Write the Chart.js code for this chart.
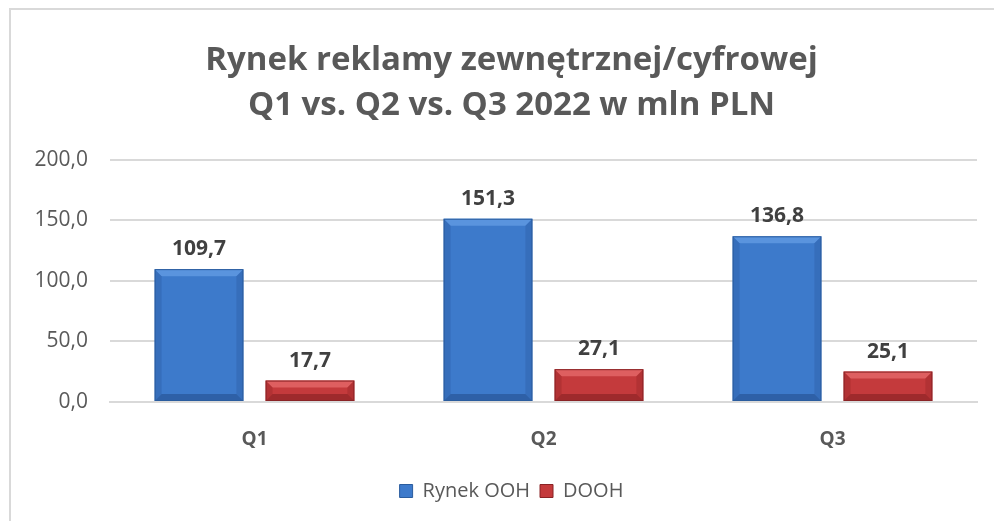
<!DOCTYPE html>
<html>
<head>
<meta charset="utf-8">
<script src="https://cdn.jsdelivr.net/npm/chart.js@4/dist/chart.umd.min.js"></script>
<style>
  html, body { margin: 0; padding: 0; background: #fff; }
  #frame {
    position: absolute; left: 9px; top: 8px; right: -5px; bottom: -5px;
    border-top: 2px solid #d9d9d9; border-left: 2px solid #d9d9d9;
  }
  #wrap { position: absolute; left: 0; top: 0; width: 994px; height: 521px; }
</style>
</head>
<body>
<div id="frame"></div>
<div id="wrap"><canvas id="chart" width="994" height="521"></canvas></div>
<script>
// Data
const categories = ['Q1', 'Q2', 'Q3'];
const oohValues = [109.7, 151.3, 136.8];
const doohValues = [17.7, 27.1, 25.1];
const seriesNames = ['Rynek OOH', 'DOOH'];
const yTicks = [0, 50, 100, 150, 200];

const FONT = "'Open Sans', 'DejaVu Sans', sans-serif";
const TEXT_COLOR = '#595959';
const CENTER_SHIFT = 18; // title + legend are centred on the whole frame, not the plot

function fmt(v) {
  return v.toFixed(1).replace('.', ',');
}

// Shift title and legend to the frame centre
const centerShift = {
  id: 'centerShift',
  afterLayout(chart) {
    [chart.titleBlock, chart.legend].forEach(box => {
      if (!box) return;
      box.left += CENTER_SHIFT;
      box.right += CENTER_SHIFT;
    });
  }
};

// Bevel overlay for bars (Excel-like look)
const bevelPlugin = {
  id: 'bevel',
  afterDatasetsDraw(chart) {
    const ctx = chart.ctx;
    chart.data.datasets.forEach((ds, i) => {
      const meta = chart.getDatasetMeta(i);
      meta.data.forEach(bar => {
        const left = bar.x - bar.width / 2;
        const right = bar.x + bar.width / 2;
        const top = bar.y;
        const bottom = bar.base;
        const b = Math.min(7, (bottom - top) / 2);
        ctx.save();
        // top highlight
        ctx.fillStyle = ds.bevelLight;
        ctx.beginPath();
        ctx.moveTo(left, top);
        ctx.lineTo(right, top);
        ctx.lineTo(right - b, top + b);
        ctx.lineTo(left + b, top + b);
        ctx.closePath();
        ctx.fill();
        // sides
        ctx.fillStyle = ds.bevelDark;
        ctx.beginPath();
        ctx.moveTo(left, top);
        ctx.lineTo(left + b, top + b);
        ctx.lineTo(left + b, bottom - b);
        ctx.lineTo(left, bottom);
        ctx.closePath();
        ctx.fill();
        ctx.beginPath();
        ctx.moveTo(right, top);
        ctx.lineTo(right - b, top + b);
        ctx.lineTo(right - b, bottom - b);
        ctx.lineTo(right, bottom);
        ctx.closePath();
        ctx.fill();
        // bottom
        ctx.fillStyle = ds.bevelBottom;
        ctx.beginPath();
        ctx.moveTo(left, bottom);
        ctx.lineTo(left + b, bottom - b);
        ctx.lineTo(right - b, bottom - b);
        ctx.lineTo(right, bottom);
        ctx.closePath();
        ctx.fill();
        ctx.strokeStyle = ds.borderColor;
        ctx.lineWidth = 1;
        ctx.strokeRect(left + 0.5, top + 0.5, bar.width - 1, bottom - top - 1);
        ctx.restore();
      });
    });
  }
};

// Value labels above bars
const valueLabels = {
  id: 'valueLabels',
  afterDatasetsDraw(chart) {
    const ctx = chart.ctx;
    ctx.save();
    ctx.font = `bold 21px ${FONT}`;
    ctx.fillStyle = '#404040';
    ctx.textAlign = 'center';
    ctx.textBaseline = 'middle';
    chart.data.datasets.forEach((ds, i) => {
      chart.getDatasetMeta(i).data.forEach((bar, j) => {
        ctx.fillText(fmt(ds.data[j]), bar.x, bar.y - 20);
      });
    });
    ctx.restore();
  }
};

const ctx = document.getElementById('chart').getContext('2d');
new Chart(ctx, {
  type: 'bar',
  data: {
    labels: categories,
    datasets: [
      {
        label: seriesNames[0],
        data: oohValues,
        backgroundColor: '#3d7acb',
        borderColor: '#2a5c9e',
        borderWidth: 0,
        bevelLight: 'rgba(110,165,235,0.6)',
        bevelDark: 'rgba(30,70,130,0.22)',
        bevelBottom: 'rgba(20,50,100,0.35)',
        categoryPercentage: 0.768,
        barPercentage: 0.8,
      },
      {
        label: seriesNames[1],
        data: doohValues,
        backgroundColor: '#c43a3c',
        borderColor: '#8a2325',
        borderWidth: 0,
        bevelLight: 'rgba(240,120,120,0.6)',
        bevelDark: 'rgba(110,20,20,0.2)',
        bevelBottom: 'rgba(90,15,15,0.35)',
        categoryPercentage: 0.768,
        barPercentage: 0.8,
      },
    ],
  },
  options: {
    responsive: false,
    animation: false,
    layout: { padding: { left: 10, right: 17, top: 0, bottom: 10 } },
    scales: {
      y: {
        min: 0,
        max: 200,
        afterFit(scale) { scale.width = 100; },
        afterBuildTicks(scale) { scale.ticks = yTicks.map(v => ({ value: v })); },
        border: { display: false },
        grid: { color: '#d9d9d9', lineWidth: 2, drawTicks: false },
        ticks: {
          padding: 22,
          color: TEXT_COLOR,
          font: { family: FONT, size: 21 },
          callback: v => fmt(v),
        },
      },
      x: {
        afterFit(scale) { scale.height = 69; },
        border: { color: '#d9d9d9', width: 2 },
        grid: { display: false, drawTicks: false },
        ticks: {
          padding: 26,
          color: TEXT_COLOR,
          font: { family: FONT, size: 19, weight: 'bold' },
        },
      },
    },
    plugins: {
      title: {
        display: true,
        text: ['Rynek reklamy zewnętrznej/cyfrowej', 'Q1 vs. Q2 vs. Q3 2022 w mln PLN'],
        color: TEXT_COLOR,
        font: { family: FONT, size: 33, weight: 'bold', lineHeight: 1.36 },
        padding: { top: 38, bottom: 32 },
      },
      legend: {
        position: 'bottom',
        labels: {
          color: TEXT_COLOR,
          font: { family: FONT, size: 20 },
          boxWidth: 13,
          boxHeight: 13,
          padding: 10,
          generateLabels(chart) {
            return chart.data.datasets.map((ds, i) => ({
              text: ds.label,
              fillStyle: ds.backgroundColor,
              strokeStyle: ds.borderColor,
              lineWidth: 1,
              datasetIndex: i,
              fontColor: TEXT_COLOR,
            }));
          },
        },
      },
      tooltip: { enabled: false },
    },
  },
  plugins: [centerShift, bevelPlugin, valueLabels],
});
</script>
</body>
</html>
